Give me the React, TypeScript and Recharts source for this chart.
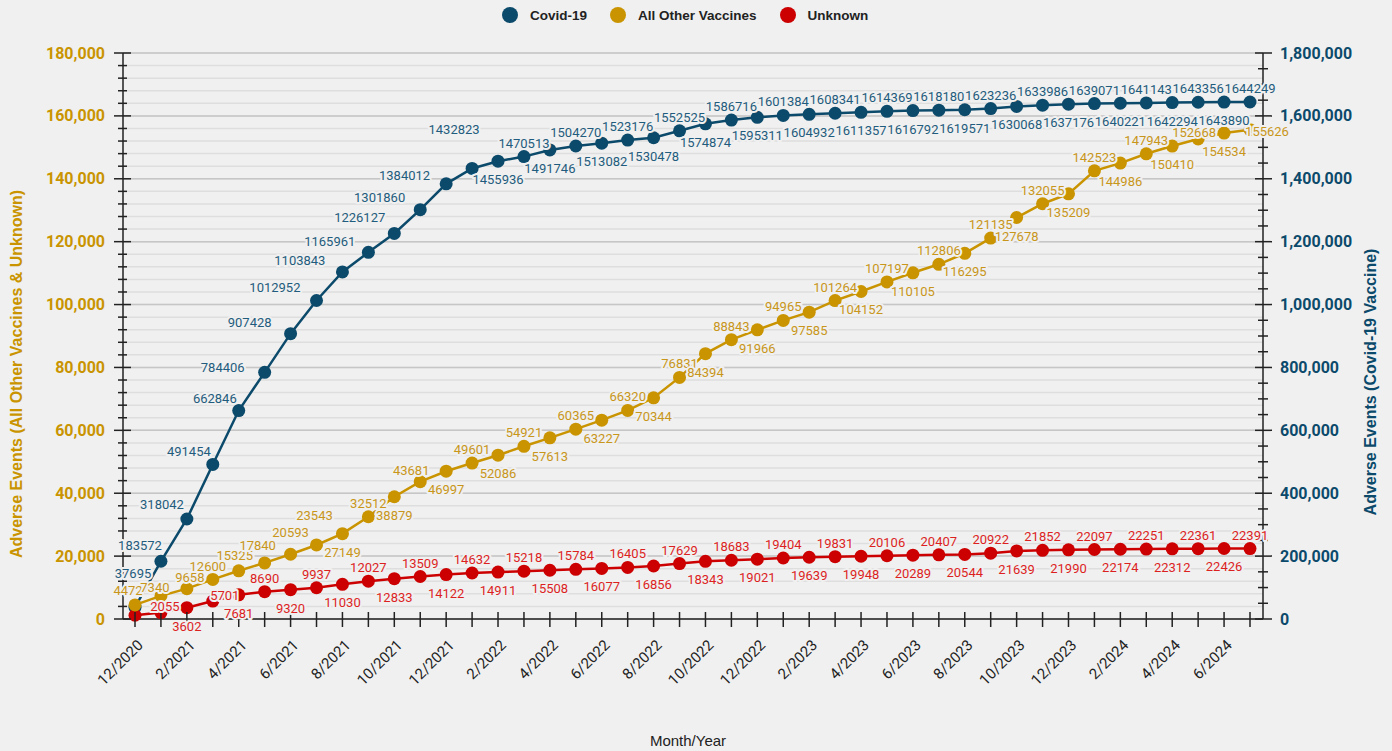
import React from 'react';
import { LineChart, Line, XAxis, YAxis, CartesianGrid, LabelList } from 'recharts';

const months = [
  '12/2020', '1/2021', '2/2021', '3/2021', '4/2021', '5/2021', '6/2021', '7/2021', '8/2021', '9/2021', '10/2021', '11/2021',
  '12/2021', '1/2022', '2/2022', '3/2022', '4/2022', '5/2022', '6/2022', '7/2022', '8/2022', '9/2022', '10/2022', '11/2022',
  '12/2022', '1/2023', '2/2023', '3/2023', '4/2023', '5/2023', '6/2023', '7/2023', '8/2023', '9/2023', '10/2023', '11/2023',
  '12/2023', '1/2024', '2/2024', '3/2024', '4/2024', '5/2024', '6/2024', '7/2024',
];

const covid19 = [
  37695, 183572, 318042, 491454, 662846, 784406, 907428, 1012952, 1103843, 1165961, 1226127, 1301860,
  1384012, 1432823, 1455936, 1470513, 1491746, 1504270, 1513082, 1523176, 1530478, 1552525, 1574874, 1586716,
  1595311, 1601384, 1604932, 1608341, 1611357, 1614369, 1616792, 1618180, 1619571, 1623236, 1630068, 1633986,
  1637176, 1639071, 1640221, 1641143, 1642294, 1643356, 1643890, 1644249,
];

const otherVaccines = [
  4472, 7340, 9658, 12600, 15325, 17840, 20593, 23543, 27149, 32512, 38879, 43681,
  46997, 49601, 52086, 54921, 57613, 60365, 63227, 66320, 70344, 76831, 84394, 88843,
  91966, 94965, 97585, 101264, 104152, 107197, 110105, 112806, 116295, 121135, 127678, 132055,
  135209, 142523, 144986, 147943, 150410, 152668, 154534, 155626,
];

const unknown = [
  1200, 2055, 3602, 5701, 7681, 8690, 9320, 9937, 11030, 12027, 12833, 13509,
  14122, 14632, 14911, 15218, 15508, 15784, 16077, 16405, 16856, 17629, 18343, 18683,
  19021, 19404, 19639, 19831, 19948, 20106, 20289, 20407, 20544, 20922, 21639, 21852,
  21990, 22097, 22174, 22251, 22312, 22361, 22426, 22391,
];

const leftTicks = Array.from({ length: 46 }, (_, i) => i * 4000);
const leftMajorTicks = leftTicks.filter((v) => v % 20000 === 0);
const rightTicks = Array.from({ length: 37 }, (_, i) => i * 50000);

const data = months.map((m, i) => ({
  month: m,
  covid: covid19[i],
  other: otherVaccines[i],
  unknown: unknown[i],
}));

const BG = '#f0f0f0';
const COVID = '#0c4a6b';
const GOLD = '#c99400';
const RED = '#cc0000';
const COVID_TXT = '#1f5c7d';
const GOLD_TXT = '#c8961a';
const RED_TXT = '#dc1f1f';
const AXIS = '#222';

type Place = { dx: number; dy: number; anchor: 'start' | 'middle' | 'end' } | null;

const overrides: Record<string, Record<number, Place>> = {
  covid: {
    0: { dx: -2, dy: -29, anchor: 'middle' },
    1: { dx: 1, dy: -11, anchor: 'end' },
    2: { dx: -3, dy: -10, anchor: 'end' },
    3: { dx: -2, dy: -8, anchor: 'end' },
    4: { dx: -2, dy: -8, anchor: 'end' },
    5: { dx: -20, dy: 0, anchor: 'end' },
    6: { dx: -19, dy: -7, anchor: 'end' },
    7: { dx: -16, dy: -8, anchor: 'end' },
    8: { dx: -17, dy: -7, anchor: 'end' },
    9: { dx: -13, dy: -6, anchor: 'end' },
    10: { dx: -9, dy: -11, anchor: 'end' },
    11: { dx: -15, dy: -8, anchor: 'end' },
    12: { dx: -16, dy: -4, anchor: 'end' },
    13: { dx: -18, dy: -34, anchor: 'middle' },
  },
  other: {
    0: { dx: -7, dy: -10, anchor: 'middle' },
    1: { dx: -6, dy: -4, anchor: 'middle' },
    2: { dx: 3, dy: -7, anchor: 'middle' },
    3: { dx: -5, dy: -8, anchor: 'middle' },
    4: { dx: -4, dy: -11, anchor: 'middle' },
    5: { dx: -7, dy: -13, anchor: 'middle' },
    6: { dx: 0, dy: -17, anchor: 'middle' },
    7: { dx: -2, dy: -25, anchor: 'middle' },
    11: { dx: -9, dy: -7, anchor: 'middle' },
    41: { dx: -4, dy: -2, anchor: 'middle' },
    43: { dx: 17, dy: 6, anchor: 'middle' },
  },
  unknown: {
    0: null,
    1: { dx: 4, dy: -2, anchor: 'middle' },
    3: { dx: 12, dy: -1, anchor: 'middle' },
  },
};

const placeFor = (series: string, index: number): Place => {
  const o = overrides[series];
  if (o && Object.prototype.hasOwnProperty.call(o, index)) return o[index];
  return index % 2 === 1 ? { dx: 0, dy: -9, anchor: 'middle' } : { dx: 0, dy: 23, anchor: 'middle' };
};

const makeLabel = (series: string, color: string) => (props: any) => {
  const { index, value } = props;
  const x = props.x ?? props.viewBox?.x;
  const y = props.y ?? props.viewBox?.y;
  if (x == null || y == null) return null;
  const p = placeFor(series, index);
  if (!p) return null;
  return (
    <text
      x={x + p.dx}
      y={y + p.dy}
      textAnchor={p.anchor}
      fill={color}
      stroke={BG}
      strokeWidth={4}
      strokeLinejoin="round"
      paintOrder="stroke"
      fontFamily="Roboto, sans-serif"
      fontSize={13}
    >
      {value}
    </text>
  );
};

const LeftTick = (props: any) => {
  const { x, y, payload } = props;
  const major = payload.value % 20000 === 0;
  return (
    <g>
      <line x1={x - (major ? 9 : 5)} x2={x + (major ? 8 : 4)} y1={y} y2={y} stroke={AXIS} strokeWidth={1.5} />
      {major && (
        <text x={x - 18} y={y} dy={5.5} textAnchor="end" fill={GOLD} fontFamily="Roboto, sans-serif" fontWeight="bold" fontSize={16}>
          {Number(payload.value).toLocaleString('en-US')}
        </text>
      )}
    </g>
  );
};

const RightTick = (props: any) => {
  const { x, y, payload } = props;
  const major = payload.value % 200000 === 0;
  return (
    <g>
      <line x1={x - (major ? 8 : 5)} x2={x + (major ? 9 : 5)} y1={y} y2={y} stroke={AXIS} strokeWidth={1.5} />
      {major && (
        <text x={x + 17} y={y} dy={5.5} textAnchor="start" fill={COVID} fontFamily="Roboto, sans-serif" fontWeight="bold" fontSize={16}>
          {Number(payload.value).toLocaleString('en-US')}
        </text>
      )}
    </g>
  );
};

const XTick = (props: any) => {
  const { x, y, payload } = props;
  const idx = months.indexOf(payload.value);
  return (
    <g>
      <line x1={x} x2={x} y1={y - 7} y2={y + 8} stroke={AXIS} strokeWidth={1.5} />
      {idx % 2 === 0 && (
        <text
          transform={`translate(${x + 9},${y + 27}) rotate(-45)`}
          textAnchor="end"
          fill={AXIS}
          fontFamily="Roboto, sans-serif"
          fontSize={15}
        >
          {payload.value}
        </text>
      )}
    </g>
  );
};

const legendItems = [
  { name: 'Covid-19', color: COVID },
  { name: 'All Other Vaccines', color: GOLD },
  { name: 'Unknown', color: RED },
];

export default function App() {
  return (
    <div style={{ position: 'absolute', left: 0, top: 0, width: 1392, height: 751, background: BG, overflow: 'hidden' }}>
      <div
        style={{
          position: 'absolute',
          top: 7,
          left: 502,
          height: 16,
          display: 'flex',
          alignItems: 'center',
          fontFamily: '"Liberation Sans", Arial, sans-serif',
          fontWeight: 'bold',
          fontSize: 13.5,
          color: '#222',
          whiteSpace: 'nowrap',
        }}
      >
        {legendItems.map((it) => (
          <div key={it.name} style={{ display: 'flex', alignItems: 'center', marginRight: 23 }}>
            <span style={{ display: 'inline-block', width: 16, height: 16, borderRadius: 8, background: it.color, marginRight: 12 }} />
            <span>{it.name}</span>
          </div>
        ))}
      </div>
      <LineChart width={1392} height={751} data={data} margin={{ top: 53, right: 29, bottom: 32, left: 23 }}>
        <CartesianGrid yAxisId="left" vertical={false} horizontalValues={leftTicks} stroke="#dedede" strokeWidth={1.5} />
        <CartesianGrid yAxisId="left" vertical={false} horizontalValues={leftMajorTicks} stroke="#c6c6c6" strokeWidth={1.5} />
        <XAxis
          dataKey="month"
          type="category"
          interval={0}
          height={100}
          padding={{ left: 12, right: 13 }}
          tickSize={0}
          tickMargin={0}
          tickLine={false}
          axisLine={{ stroke: AXIS, strokeWidth: 1.5 }}
          tick={<XTick />}
          label={{
            content: () => (
              <text x={688} y={746} textAnchor="middle" fill={AXIS} fontFamily='"Liberation Sans", Arial, sans-serif' fontSize={15}>
                Month/Year
              </text>
            ),
          }}
        />
        <YAxis
          yAxisId="left"
          orientation="left"
          width={100}
          domain={[0, 180000]}
          ticks={leftTicks}
          interval={0}
          tickSize={0}
          tickMargin={0}
          tickLine={false}
          axisLine={{ stroke: AXIS, strokeWidth: 1.5 }}
          tick={<LeftTick />}
          label={{
            content: () => (
              <text
                transform="translate(22,374) rotate(-90)"
                textAnchor="middle"
                fill={GOLD}
                fontFamily='"Liberation Sans", Arial, sans-serif'
                fontWeight="bold"
                fontSize={16}
              >
                Adverse Events (All Other Vaccines &amp; Unknown)
              </text>
            ),
          }}
        />
        <YAxis
          yAxisId="right"
          orientation="right"
          width={100}
          domain={[0, 1800000]}
          ticks={rightTicks}
          interval={0}
          tickSize={0}
          tickMargin={0}
          tickLine={false}
          axisLine={{ stroke: AXIS, strokeWidth: 1.5 }}
          tick={<RightTick />}
          label={{
            content: () => (
              <text
                transform="translate(1376,382) rotate(-90)"
                textAnchor="middle"
                fill={COVID}
                fontFamily='"Liberation Sans", Arial, sans-serif'
                fontWeight="bold"
                fontSize={16}
              >
                Adverse Events (Covid-19 Vaccine)
              </text>
            ),
          }}
        />
        <Line
          yAxisId="right"
          dataKey="covid"
          stroke={COVID}
          strokeWidth={2.5}
          dot={{ r: 6.5, fill: COVID, stroke: COVID, strokeWidth: 0 }}
          activeDot={false}
          isAnimationActive={false}
        />
        <Line
          yAxisId="left"
          dataKey="unknown"
          stroke={RED}
          strokeWidth={2.5}
          dot={{ r: 6.5, fill: RED, stroke: RED, strokeWidth: 0 }}
          activeDot={false}
          isAnimationActive={false}
        />
        <Line
          yAxisId="left"
          dataKey="other"
          stroke={GOLD}
          strokeWidth={2.5}
          dot={{ r: 6.5, fill: GOLD, stroke: GOLD, strokeWidth: 0 }}
          activeDot={false}
          isAnimationActive={false}
        />
        <Line yAxisId="right" dataKey="covid" stroke="none" dot={false} activeDot={false} legendType="none" isAnimationActive={false}>
          <LabelList dataKey="covid" content={makeLabel('covid', COVID_TXT)} />
        </Line>
        <Line yAxisId="left" dataKey="unknown" stroke="none" dot={false} activeDot={false} legendType="none" isAnimationActive={false}>
          <LabelList dataKey="unknown" content={makeLabel('unknown', RED_TXT)} />
        </Line>
        <Line yAxisId="left" dataKey="other" stroke="none" dot={false} activeDot={false} legendType="none" isAnimationActive={false}>
          <LabelList dataKey="other" content={makeLabel('other', GOLD_TXT)} />
        </Line>
      </LineChart>
    </div>
  );
}
